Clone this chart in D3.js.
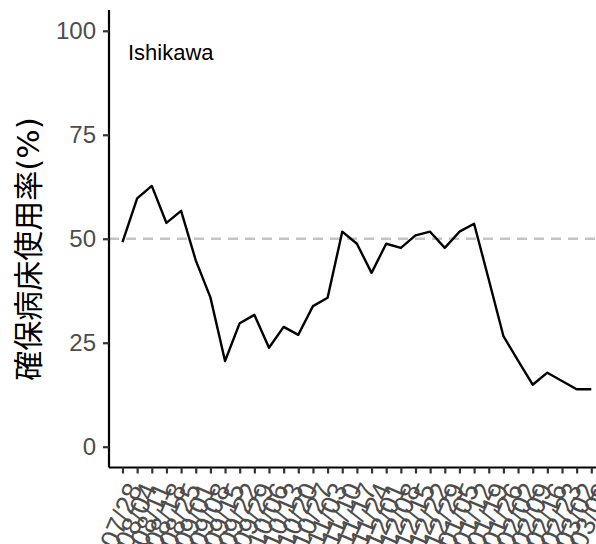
<!DOCTYPE html>
<html>
<head>
<meta charset="utf-8">
<script src="https://cdn.jsdelivr.net/npm/d3@7"></script>
<style>
  html, body { margin: 0; padding: 0; background: #fff; }
  svg { display: block; }
</style>
</head>
<body>
<svg id="chart" width="596" height="544"></svg>
<script>
const dates = ["07/28","08/04","08/11","08/18","08/25","09/01","09/08","09/15","09/22","09/29",
  "10/06","10/13","10/20","10/27","11/03","11/10","11/17","11/24","12/01","12/08",
  "12/15","12/22","12/29","01/05","01/12","01/19","01/26","02/02","02/09","02/16",
  "02/23","03/02","03/09"];
const usage = [49.2, 59.7, 62.7, 53.8, 56.7, 44.8, 35.9, 20.6, 29.7, 31.7,
  23.8, 28.8, 26.9, 33.8, 35.8, 51.7, 48.8, 41.8, 48.8, 47.8,
  50.8, 51.7, 47.8, 51.7, 53.6, 40.2, 26.6, 20.7, 14.9, 17.8,
  15.8, 13.8, 13.8];
const yTicks = [0, 25, 50, 75, 100];
const refLine = 50;
const prefName = "Ishikawa";
const yTitleMain = "確保病床使用率";
const yTitleUnit = "(%)";

const svg = d3.select("#chart");
const mLeft = 109, mRight = 596, mTop = 10, mBottom = 467.5;

const x = d3.scalePoint().domain(dates).range([122.5, 591.3]);
const y = d3.scaleLinear().domain([-5, 105]).range([mBottom, mTop]);

// reference dashed line
svg.append("line")
  .attr("x1", mLeft).attr("x2", mRight)
  .attr("y1", y(refLine)).attr("y2", y(refLine))
  .attr("stroke", "#c4c4c4").attr("stroke-width", 2.4)
  .attr("stroke-dasharray", "10,7");

// line
const line = d3.line().x((d, i) => x(dates[i])).y(d => y(d));
svg.append("path").datum(usage)
  .attr("d", line)
  .attr("fill", "none").attr("stroke", "#000").attr("stroke-width", 2.4)
  .attr("stroke-linejoin", "round");

// y axis
const yAxis = svg.append("g").attr("transform", `translate(${mLeft},0)`)
  .call(d3.axisLeft(y).tickValues(yTicks).tickSize(6).tickPadding(7));
yAxis.select(".domain").attr("d", `M0,${mTop}V${mBottom}`).attr("stroke", "#000").attr("stroke-width", 2.2);
yAxis.selectAll(".tick line").attr("stroke", "#333").attr("stroke-width", 2.2);
yAxis.selectAll(".tick text")
  .attr("font-family", "'Liberation Sans', Arial, sans-serif")
  .attr("font-size", 24).attr("fill", "#4d4d4d");

// x axis
const xAxis = svg.append("g").attr("transform", `translate(0,${mBottom})`)
  .call(d3.axisBottom(x).tickSize(6).tickPadding(4));
xAxis.select(".domain").attr("d", `M${mLeft},0H${mRight}`).attr("stroke", "#000").attr("stroke-width", 2.2);
xAxis.selectAll(".tick line").attr("stroke", "#333").attr("stroke-width", 2.2);
xAxis.selectAll(".tick text")
  .attr("font-family", "'Liberation Sans', Arial, sans-serif")
  .attr("font-size", 27).attr("fill", "#4d4d4d")
  .attr("text-anchor", "end")
  .attr("dy", "0.35em")
  .attr("transform", "translate(2,13) rotate(-67)");

// label
svg.append("text")
  .attr("x", 128).attr("y", 60)
  .attr("font-family", "'Liberation Sans', Arial, sans-serif")
  .attr("font-size", 22).attr("fill", "#000")
  .text(prefName);

// y title
const yt = svg.append("text")
  .attr("transform", "translate(39,249) rotate(-90)")
  .attr("text-anchor", "middle")
  .attr("font-family", "'Noto Sans CJK JP', sans-serif")
  .attr("font-size", 30).attr("fill", "#000");
yt.append("tspan").text(yTitleMain);
yt.append("tspan").attr("font-family", "'DejaVu Sans', sans-serif").attr("font-size", 31).text(yTitleUnit);
</script>
</body>
</html>
